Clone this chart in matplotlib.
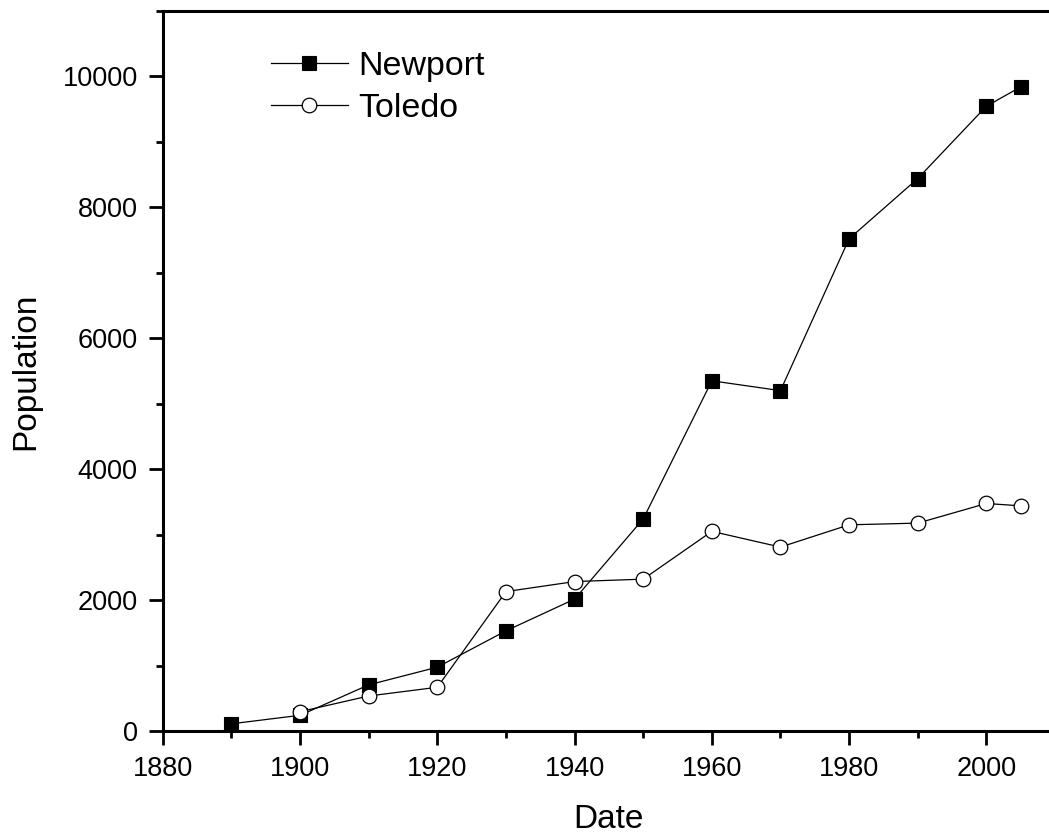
import matplotlib
matplotlib.use("Agg")
import matplotlib.pyplot as plt
from matplotlib.ticker import MultipleLocator

plt.rcParams["font.family"] = ["Liberation Sans", "DejaVu Sans"]

# data
years = [1890, 1900, 1910, 1920, 1930, 1940, 1950, 1960, 1970, 1980, 1990, 2000, 2005]
newport = [110, 240, 705, 975, 1530, 2015, 3240, 5350, 5200, 7520, 8440, 9545, 9840]
toledo_years = [1900, 1910, 1920, 1930, 1940, 1950, 1960, 1970, 1980, 1990, 2000, 2005]
toledo = [295, 535, 668, 2130, 2283, 2320, 3050, 2810, 3150, 3176, 3476, 3440]

fig = plt.figure(figsize=(10.49, 8.35), dpi=100)
# axes runs a little past the right edge, as in the reference
ax = fig.add_axes([162.8 / 1049, 104 / 835, 892.2 / 1049, 720 / 835])

ax.plot(years, newport, color="black", lw=0.9, marker="s", ms=10,
        mfc="black", mec="black", mew=0.8, label="Newport")
ax.plot(toledo_years, toledo, color="black", lw=0.9, marker="o", ms=10.5,
        mfc="white", mec="black", mew=0.9, label="Toledo")

ax.set_xlim(1880, 2010)
ax.set_ylim(0, 11000)
ax.xaxis.set_major_locator(MultipleLocator(20))
ax.xaxis.set_minor_locator(MultipleLocator(10))
ax.yaxis.set_major_locator(MultipleLocator(2000))
ax.yaxis.set_minor_locator(MultipleLocator(1000))

for side in ["left", "bottom", "top"]:
    ax.spines[side].set_linewidth(2.2)
ax.spines["right"].set_visible(False)

ax.tick_params(which="major", direction="out", length=10, width=2, labelsize=19.5, pad=8)
ax.tick_params(which="minor", direction="out", length=5, width=2)
ax.tick_params(top=False, right=False, which="both")

ax.set_xlabel("Date", fontsize=24, labelpad=16)
ax.set_ylabel("Population", fontsize=24, labelpad=15)

ax.legend(loc="upper left", bbox_to_anchor=(0.1213, 0.945), frameon=False,
          fontsize=24.5, handlelength=2.26, handletextpad=0.3,
          labelspacing=0.33, borderpad=0, borderaxespad=0)

fig.savefig("out.png", dpi=100)
